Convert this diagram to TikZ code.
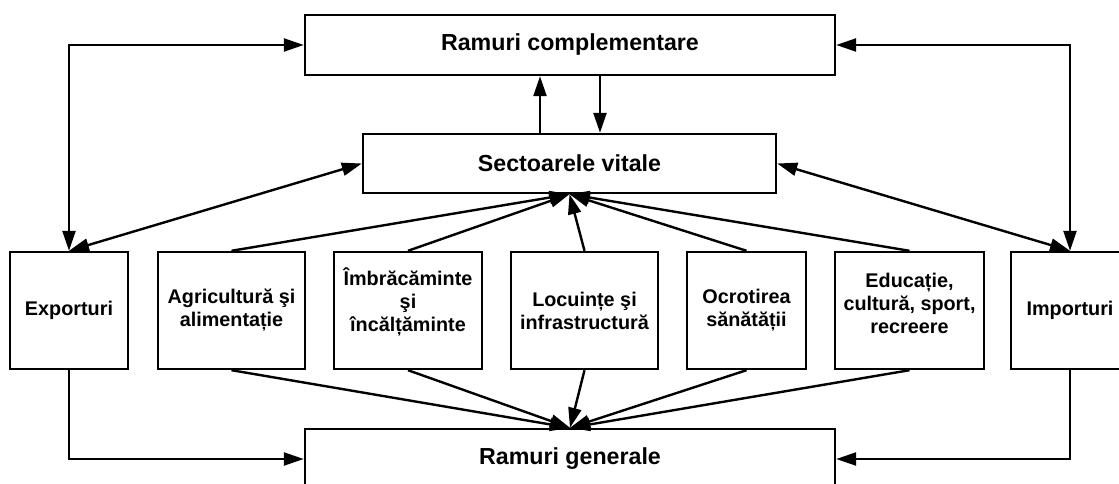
\documentclass[tikz,border=0pt]{standalone}
\usepackage{fontspec}
\setmainfont{Liberation Sans}
\usetikzlibrary{arrows.meta,calc}
\begin{document}
\begin{tikzpicture}[x=1pt,y=-1pt,
  box/.style={draw,line width=2.4pt,inner sep=0pt,align=center,font=\bfseries\fontsize{19.8}{23}\selectfont},
  txt/.style={inner sep=0pt,align=center,font=\bfseries\fontsize{19.8}{23}\selectfont},
  big/.style={draw,line width=2.4pt,inner sep=0pt,font=\bfseries\fontsize{23.2}{26}\selectfont},
  conn/.style={line width=2.4pt,-{Triangle[length=20pt,width=13pt]}},
  bi/.style={line width=2.4pt,{Triangle[length=20pt,width=13pt]}-{Triangle[length=20pt,width=13pt]}},
]
\clip (0,0) rectangle (1119,484);
\fill[white] (0,0) rectangle (1119,484);
\node[big,minimum width=530pt,minimum height=60pt] (rc) at (570,45) {Ramuri complementare};
\node[big,minimum width=413pt,minimum height=59pt] (sv) at (569.5,163.5) {Sectoarele vitale};
\node[big,minimum width=530pt,minimum height=60pt] (rg) at (570,459) {Ramuri generale};

\node[box,minimum width=118pt,minimum height=117pt] (exp) at (69,310.5) {Exporturi};
\node[box,minimum width=147pt,minimum height=117pt] (agr) at (231.5,310.5) {Agricultură şi\\alimentație};
\node[box,minimum width=148pt,minimum height=117pt] (imb) at (408,310.5) {};
\node[txt,yshift=9pt] (imbt) at (imb) {Îmbrăcăminte\\şi\\încălțăminte};
\node[box,minimum width=147pt,minimum height=117pt] (loc) at (584.5,310.5) {Locuințe şi\\infrastructură};
\node[box,minimum width=119pt,minimum height=117pt] (ocr) at (746.5,310.5) {Ocrotirea\\sănătății};
\node[box,minimum width=149pt,minimum height=117pt] (edu) at (909.5,310.5) {};
\node[txt,yshift=7pt] (edut) at (edu) {Educație,\\cultură, sport,\\recreere};
\node[box,minimum width=118pt,minimum height=117pt] (imp) at (1070,310.5) {Importuri};

\draw[bi] (rc.west) -| (exp.north);
\draw[bi] (rc.east) -| (imp.north);
\draw[conn] (exp.south) |- (rg.west);
\draw[conn] (imp.south) |- (rg.east);
\draw[bi] (sv.west) -- (exp.north);
\draw[bi] (sv.east) -- (imp.north);
\draw[conn] ([xshift=-29.5pt]sv.north) -- ([xshift=-30pt]rc.south);
\draw[conn] ([xshift=30pt]rc.south) -- ([xshift=30.5pt]sv.north);
\foreach \n in {agr,imb,loc,ocr,edu}{
  \draw[conn] (\n.north) -- (sv.south);
  \draw[conn] (\n.south) -- (rg.north);
}
\end{tikzpicture}
\end{document}
